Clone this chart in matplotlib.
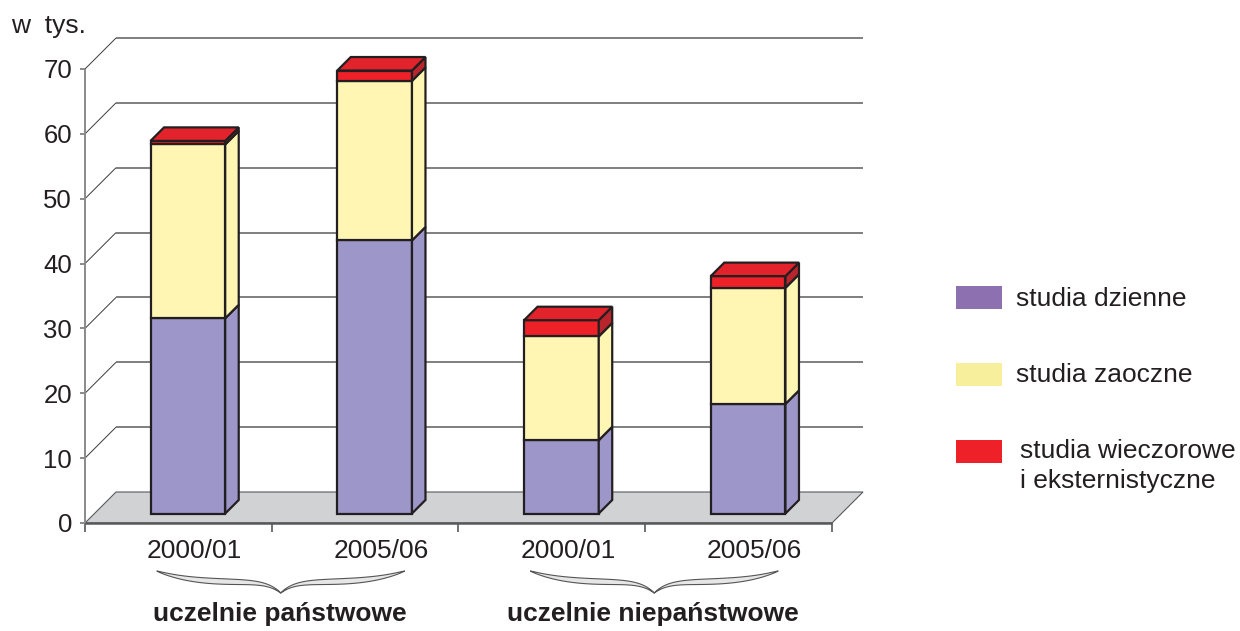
import numpy as np
import matplotlib.pyplot as plt
from matplotlib.patches import Polygon, Rectangle
from matplotlib.lines import Line2D
from matplotlib.transforms import IdentityTransform, ScaledTranslation, blended_transform_factory

plt.rcParams['font.family'] = ['Liberation Sans', 'DejaVu Sans']

# data (w tys.)
categories = ["2000/01", "2005/06", "2000/01", "2005/06"]
groups = ["uczelnie państwowe", "uczelnie niepaństwowe"]
series = ["studia dzienne", "studia zaoczne", "studia wieczorowe\ni eksternistyczne"]
dzienne = [30.1, 42.1, 11.3, 16.9]
zaoczne = [26.8, 24.6, 16.0, 17.9]
wieczorowe = [0.55, 1.6, 2.5, 1.8]
yticks = [0, 10, 20, 30, 40, 50, 60, 70]

front_cols = ['#9c96c9', '#fff6b3', '#ee2128']
side_cols = ['#9c96c9', '#fff6b3', '#b8252d']
top_col = '#e3232b'
legend_cols = ['#8d70b0', '#f8ef9c', '#ee2128']
edge = '#231f20'
FS = 19

W, H = 1240, 631
fig = plt.figure(figsize=(W / 100, H / 100), dpi=100)
ax = fig.add_axes([85 / W, (H - 523) / H, 747 / W, 454 / H])
ax.set_xlim(-0.5, len(categories) - 0.5)
ax.set_ylim(0, 70)
ax.axis('off')

WALL = 31        # depth of floor / back wall, px
D1, D2 = 9.5, 23  # front and back of the bars, px
bw = 0.4


def px(x, y, d=0):
    X, Y = ax.transData.transform((x, y))
    return (X + d, Y + d)


def face(pts, fc, ec=edge, lw=1.6, z=3):
    ax.add_patch(Polygon(pts, closed=True, facecolor=fc, edgecolor=ec, lw=lw,
                         joinstyle='miter', transform=IdentityTransform(),
                         clip_on=False, zorder=z))


def line(p0, p1, color, lw, z=2):
    ax.add_line(Line2D([p0[0], p1[0]], [p0[1], p1[1]], color=color, lw=lw,
                       transform=IdentityTransform(), clip_on=False, zorder=z,
                       solid_capstyle='butt'))


x0, x1 = ax.get_xlim()

# floor
face([px(x0, 0), px(x0, 0, WALL), px(x1, 0, WALL), px(x1, 0)], '#d1d2d4',
     ec='#58595b', lw=0.8, z=1)
line(px(x0, 0), px(x1, 0), '#58595b', 1.8)
for b in np.arange(x0, x1 + 0.01, 1.0):
    p = px(b, 0)
    line(p, (p[0], p[1] - 9), '#58595b', 1.2)

# back wall grid + front axis
for v in yticks[1:]:
    line(px(x0, v), px(x0, v, WALL), '#3a3a3a', 0.7)
    line(px(x0, v, WALL), px(x1, v, WALL), '#7f7f7f', 1.4)
line(px(x0, 0), px(x0, 70), '#8a8a8a', 1.4)
lab_tr = ax.transData + ScaledTranslation(-0.13, -0.095, fig.dpi_scale_trans)
for v in yticks:
    p = px(x0, v)
    line((p[0] - 5, p[1]), p, '#8a8a8a', 1.4)
    ax.text(x0, v, str(v), transform=lab_tr, ha='right', va='baseline',
            fontsize=18.5, color='#231f20')

fig.text(11 / W, 1 - 33 / H, "w  tys.", fontsize=FS, color='#231f20',
         ha='left', va='baseline')

# bars
for i in range(len(categories)):
    xl, xr = i - bw / 2, i + bw / 2
    base = 0
    for k, h in enumerate([dzienne[i], zaoczne[i], wieczorowe[i]]):
        top = base + h
        face([px(xl, base, D1), px(xr, base, D1), px(xr, top, D1), px(xl, top, D1)], front_cols[k])
        face([px(xr, base, D1), px(xr, base, D2), px(xr, top, D2), px(xr, top, D1)], side_cols[k])
        base = top
    face([px(xl, base, D1), px(xr, base, D1), px(xr, base, D2), px(xl, base, D2)], top_col)

# category labels
cat_tr = blended_transform_factory(ax.transData, fig.transFigure) + \
    ScaledTranslation(0.16, 0, fig.dpi_scale_trans)
for i, c in enumerate(categories):
    ax.text(i, 1 - 558 / H, c, transform=cat_tr, ha='center', va='baseline',
            fontsize=FS, color='#231f20')

# braces + group labels
grp_tr = blended_transform_factory(ax.transData, fig.transFigure) + \
    ScaledTranslation(0.08, 0, fig.dpi_scale_trans)
u = np.linspace(0, 1, 80)
yc = 571 + 11 * (1 - (1 - u) ** 4) + 11 * u ** 10
th = 5.5 * np.sin(np.pi * u) ** 0.7
for g, name in enumerate(groups):
    gc = 2 * g + 0.5
    cx = px(gc, 0)[0] + 9
    hw = 124
    xs_l = cx - hw * (1 - u)
    xs_r = cx + hw * (1 - u)
    up = yc - th / 2
    lo = yc + th / 2
    xs = np.concatenate([xs_l, xs_r[::-1], xs_r, xs_l[::-1]])
    ys = np.concatenate([up, up[::-1], lo, lo[::-1]])
    pts = np.column_stack([xs, H - ys])
    fig.add_artist(Polygon(pts, closed=True, facecolor='#e6e6e6', edgecolor='#555555',
                           lw=0.8, transform=IdentityTransform()))
    ax.text(gc, 1 - 621 / H, name, transform=grp_tr, ha='center', va='baseline',
            fontsize=FS, fontweight='bold', color='#231f20')

# legend
leg_y = [286, 363, 440]
txt_x = [1016, 1016, 1020]
txt_base = [306, 382, 458]
for k, name in enumerate(series):
    fig.add_artist(Rectangle((956 / W, 1 - (leg_y[k] + 23) / H), 46 / W, 23 / H,
                             facecolor=legend_cols[k], edgecolor='none',
                             transform=fig.transFigure))
    fig.text(txt_x[k] / W, 1 - txt_base[k] / H, name.split("\n")[0], fontsize=FS,
             color='#231f20', ha='left', va='baseline')
    if "\n" in name:
        fig.text(txt_x[k] / W, 1 - (txt_base[k] + 30) / H, name.split("\n")[1],
                 fontsize=FS, color='#231f20', ha='left', va='baseline')

fig.savefig("out.png", dpi=100)
